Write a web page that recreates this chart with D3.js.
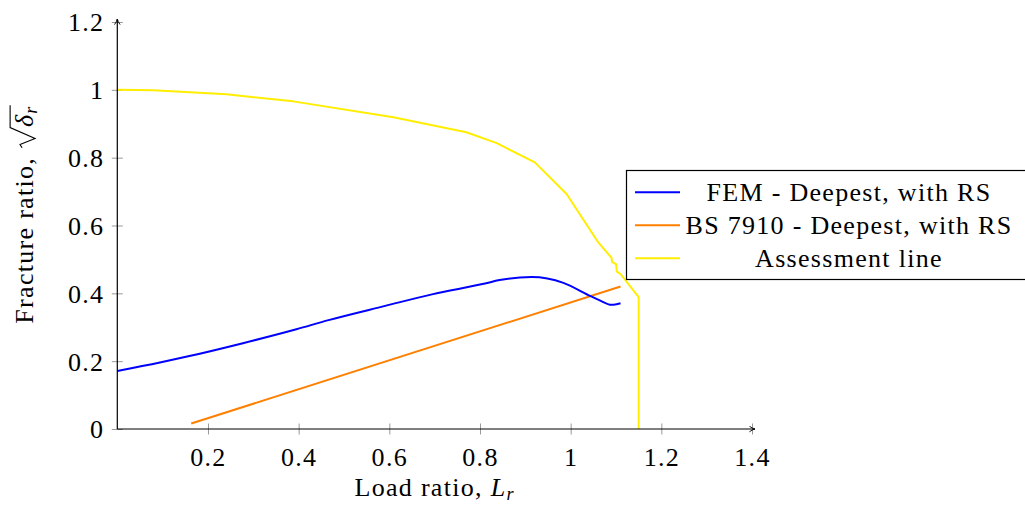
<!DOCTYPE html>
<html><head><meta charset="utf-8">
<script src="https://cdn.jsdelivr.net/npm/d3@7/dist/d3.min.js"></script>
<style>
html,body{margin:0;padding:0;background:#fff;}
text{font-family:"Liberation Serif","Times New Roman",serif;fill:#000;}
</style></head>
<body><svg id="c" width="1025" height="505"></svg>
<script>
// ---- data ----
const xTicks = [0.2, 0.4, 0.6, 0.8, 1.0, 1.2, 1.4];
const xTickLabels = ["0.2", "0.4", "0.6", "0.8", "1", "1.2", "1.4"];
const yTicks = [0, 0.2, 0.4, 0.6, 0.8, 1.0, 1.2];
const yTickLabels = ["0", "0.2", "0.4", "0.6", "0.8", "1", "1.2"];
const seriesNames = ["FEM - Deepest, with RS", "BS 7910 - Deepest, with RS", "Assessment line"];

const femLr = [0, 0.094, 0.159, 0.277, 0.395, 0.466, 0.591, 0.694, 0.811, 0.843, 0.914, 0.984, 1.039, 1.063, 1.090, 1.110];
const femFr = [0.171, 0.196, 0.215, 0.253, 0.294, 0.321, 0.363, 0.397, 0.429, 0.439, 0.448, 0.431, 0.395, 0.380, 0.366, 0.371];

const bsLr = [0.163, 1.110];
const bsFr = [0.016, 0.420];

const alLr = [0, 0.079, 0.241, 0.388, 0.609, 0.770, 0.837, 0.921, 0.991, 1.061, 1.090, 1.0915, 1.100, 1.102, 1.110, 1.150, 1.150];
const alFr = [1.0, 0.999, 0.987, 0.966, 0.919, 0.875, 0.843, 0.786, 0.693, 0.550, 0.505, 0.492, 0.486, 0.464, 0.457, 0.3885, 0];

const colors = ["#0000ff", "#ff8000", "#ffee00"];

// ---- chart ----
const svg = d3.select("#c");
const FS = 26;
const LS = "1.3px";
const x = d3.scaleLinear().domain([0, 1.4]).range([117.3, 752]);
const y = d3.scaleLinear().domain([0, 1.2]).range([429, 22]);

// ticks (grey, crossing the axes)
const xAxis = d3.axisBottom(x).tickValues(xTicks).tickSize(5.5).tickFormat((d, i) => xTickLabels[i]);
const gx = svg.append("g").attr("transform", `translate(0,${y(0)})`).call(xAxis);
gx.select(".domain").remove();
gx.selectAll(".tick line").attr("y1", -5.5).attr("stroke", "#999").attr("stroke-width", 1);
gx.selectAll(".tick text").attr("y", 0).attr("dy", 0).attr("transform", "translate(0,37)")
  .style("font-size", FS + "px").style("letter-spacing", LS).style("font-family", '"Liberation Serif",serif').attr("fill", "#000");

const yAxis = d3.axisLeft(y).tickValues(yTicks).tickSize(5.5).tickFormat((d, i) => yTickLabels[i]);
const gy = svg.append("g").attr("transform", `translate(${x(0)},0)`).call(yAxis);
gy.select(".domain").remove();
gy.selectAll(".tick line").attr("x1", 5.5).attr("stroke", "#999").attr("stroke-width", 1);
gy.selectAll(".tick text").attr("x", -13).attr("dy", "0.34em")
  .style("font-size", FS + "px").style("letter-spacing", LS).style("font-family", '"Liberation Serif",serif').attr("fill", "#000");

// series lines
const line = d3.line().x(d => x(d[0])).y(d => y(d[1]));
const femData = femLr.map((v, i) => [v, femFr[i]]);
const bsData = bsLr.map((v, i) => [v, bsFr[i]]);
const alData = alLr.map((v, i) => [v, alFr[i]]);

svg.append("path").datum(alData).attr("d", line).attr("fill", "none")
  .attr("stroke", colors[2]).attr("stroke-width", 2).attr("stroke-linejoin", "round");
svg.append("path").datum(bsData).attr("d", line).attr("fill", "none")
  .attr("stroke", colors[1]).attr("stroke-width", 2);
svg.append("path").datum(femData).attr("d", d3.line().x(d => x(d[0])).y(d => y(d[1])).curve(d3.curveMonotoneX))
  .attr("fill", "none").attr("stroke", colors[0]).attr("stroke-width", 2);

// axis lines with arrows
const defs = svg.append("defs");
defs.append("marker").attr("id", "arr").attr("viewBox", "0 0 10 10").attr("refX", 9).attr("refY", 5)
  .attr("markerWidth", 7).attr("markerHeight", 7).attr("markerUnits", "userSpaceOnUse").attr("orient", "auto")
  .append("path").attr("d", "M1,1 Q5,4 9,5 Q5,6 1,9").attr("fill", "none").attr("stroke", "#000").attr("stroke-width", 1.3);
svg.append("line").attr("x1", x(0)).attr("x2", x(1.4) + 3).attr("y1", y(0)).attr("y2", y(0))
  .attr("stroke", "#000").attr("stroke-width", 1.2).attr("marker-end", "url(#arr)");
svg.append("line").attr("x1", x(0)).attr("x2", x(0)).attr("y1", y(0)).attr("y2", y(1.2) - 3)
  .attr("stroke", "#000").attr("stroke-width", 1.2).attr("marker-end", "url(#arr)");

// x label
const xl = svg.append("text").attr("x", (x(0) + x(1.4)) / 2).attr("y", 496).attr("text-anchor", "middle")
  .style("font-size", FS + "px").style("letter-spacing", LS);
xl.append("tspan").text("Load ratio, ");
xl.append("tspan").text("L").style("font-style", "italic");
xl.append("tspan").text("r").style("font-style", "italic").style("font-size", (FS * 0.7) + "px").attr("dy", 4);

// y label with radical
const yg = svg.append("g").attr("transform", `translate(33,${(y(0) + y(1.2)) / 2}) rotate(-90)`);
const yl = yg.append("text").attr("x", 0).attr("y", 0).style("font-size", FS + "px").style("letter-spacing", LS);
yl.append("tspan").text("Fracture ratio, ");
yl.append("tspan").text("δ").style("font-style", "italic").attr("dx", FS * 0.85);
yl.append("tspan").text("r").style("font-style", "italic").style("font-size", (FS * 0.7) + "px").attr("dy", 4);
const total = yl.node().getComputedTextLength();
yl.attr("x", -total / 2);
const n1 = "Fracture ratio, ".length;
const node = yl.node();
const endMain = node.getEndPositionOfChar(n1 - 1).x;
const endAll = node.getEndPositionOfChar(n1 + 1).x;
const em = FS;
const rx0 = endMain + 0.05 * em;
yg.append("path")
  .attr("d", `M${rx0},${-0.42 * em} L${rx0 + 0.13 * em},${-0.5 * em} L${rx0 + 0.36 * em},${0.08 * em} L${rx0 + 0.78 * em},${-0.88 * em} L${endAll},${-0.88 * em}`)
  .attr("fill", "none").attr("stroke", "#000").attr("stroke-width", 1.1).attr("stroke-linejoin", "miter");

// legend
const lg = svg.append("g");
lg.append("rect").attr("x", 626.5).attr("y", 170.5).attr("width", 420).attr("height", 109)
  .attr("fill", "#fff").attr("stroke", "#000").attr("stroke-width", 1.2);
const rowsY = [192.3, 225.3, 258.3];
seriesNames.forEach((name, i) => {
  lg.append("line").attr("x1", 635).attr("x2", 680).attr("y1", rowsY[i]).attr("y2", rowsY[i])
    .attr("stroke", colors[i]).attr("stroke-width", 2);
  lg.append("text").attr("x", 849).attr("y", rowsY[i] + 9).attr("text-anchor", "middle")
    .style("font-size", FS + "px").style("letter-spacing", LS).text(name);
});
</script></body></html>
